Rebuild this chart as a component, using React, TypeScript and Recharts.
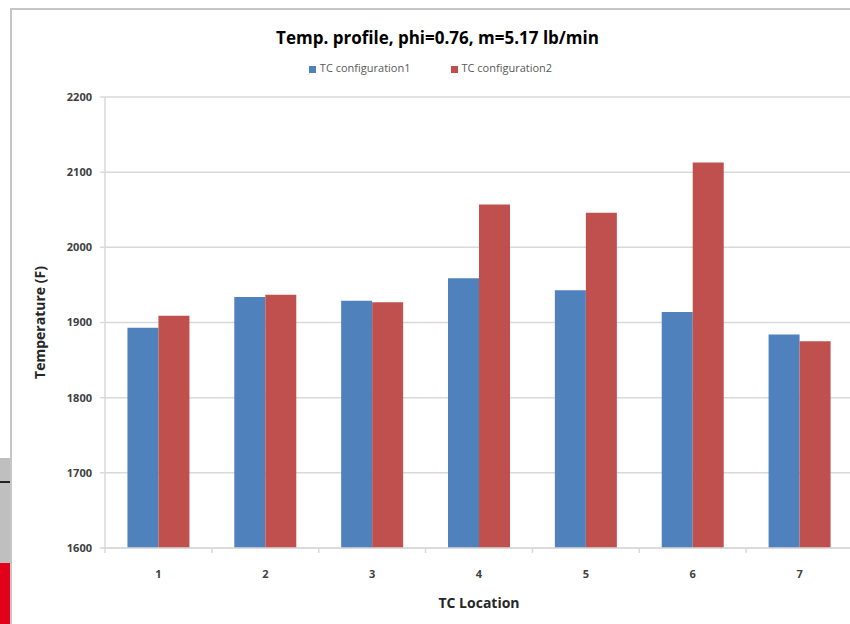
import React from 'react';
import { BarChart, Bar, XAxis, YAxis, CartesianGrid, Legend } from 'recharts';

const categories = ['1', '2', '3', '4', '5', '6', '7'];
const config1 = [1893, 1934, 1929, 1959, 1943, 1914, 1884];
const config2 = [1909, 1937, 1927, 2057, 2046, 2113, 1875];
const yTicks = [1600, 1700, 1800, 1900, 2000, 2100, 2200];

const data = categories.map((c, i) => ({
  name: c,
  c1: config1[i],
  c2: config2[i],
}));

const FONT = 'Open Sans, "Noto Sans", sans-serif';
const X_TICK_SIZE = 6;
const X_TICK_MARGIN = 16;

function CategoryTick(props: any) {
  const { x, y, payload, index, visibleTicksCount } = props;
  const half = payload && payload.offset ? payload.offset : 0;
  const axisY = y - X_TICK_SIZE - X_TICK_MARGIN;
  const isLast = index === (visibleTicksCount ?? categories.length) - 1;
  return (
    <g>
      <line x1={x - half} x2={x - half} y1={axisY} y2={axisY + 5} stroke="#d9d9d9" strokeWidth={1.5} />
      {isLast ? <line x1={x + half} x2={x + half} y1={axisY} y2={axisY + 5} stroke="#d9d9d9" strokeWidth={1.5} /> : null}
      <text x={x} y={y} dy="0.71em" textAnchor="middle" fontSize={11} fontWeight={700} fill="#404040" fontFamily={FONT}>
        {payload.value}
      </text>
    </g>
  );
}

export default function App() {
  return (
    <div style={{ position: 'absolute', left: 0, top: 0, width: 850, height: 624, overflow: 'hidden', background: '#fff', fontFamily: FONT }}>
      {/* slide background fragments */}
      <div style={{ position: 'absolute', left: 0, top: 458, width: 11, height: 105, background: '#bfbfbf' }} />
      <div style={{ position: 'absolute', left: 0, top: 481, width: 11, height: 2, background: '#222' }} />
      <div style={{ position: 'absolute', left: 0, top: 563, width: 11, height: 61, background: '#e2001a' }} />
      {/* chart frame */}
      <div style={{ position: 'absolute', left: 10, top: 8, width: 860, height: 640, borderLeft: '2px solid #c6c6c6', borderTop: '2px solid #c6c6c6', background: '#fff' }} />
      <div style={{ position: 'absolute', left: 0, top: 26, width: 875, textAlign: 'center', fontSize: 17, fontWeight: 700, color: '#000', fontFamily: FONT }}>
        Temp. profile, phi=0.76, m=5.17 lb/min
      </div>
      <div style={{ position: 'absolute', left: 0, top: 0 }}>
        <BarChart
          width={872}
          height={624}
          data={data}
          margin={{ top: 82, right: 19, bottom: 6, left: 0 }}
          barCategoryGap="21%"
          barGap={0}
        >
          <CartesianGrid vertical={false} stroke="#d9d9d9" strokeWidth={1.5} />
          <XAxis
            dataKey="name"
            height={70}
            interval={0}
            axisLine={{ stroke: '#d9d9d9', strokeWidth: 1.5 }}
            tickLine={false}
            tickSize={X_TICK_SIZE}
            tickMargin={X_TICK_MARGIN}
            tick={<CategoryTick />}
            label={{ value: 'TC Location', position: 'insideBottom', offset: 10, style: { fontSize: 14, fontWeight: 700, fill: '#262626', fontFamily: FONT } }}
          />
          <YAxis
            domain={[1600, 2200]}
            ticks={yTicks}
            width={105}
            interval={0}
            axisLine={{ stroke: '#d9d9d9', strokeWidth: 1.5 }}
            tickLine={{ stroke: '#d9d9d9', strokeWidth: 1.5 }}
            tickSize={5}
            tickMargin={8}
            tick={{ fontSize: 11, fontWeight: 700, fill: '#404040', fontFamily: FONT }}
            label={{ value: 'Temperature (F)', angle: -90, position: 'insideLeft', offset: 40, style: { textAnchor: 'middle', fontSize: 14, fontWeight: 700, fill: '#262626', fontFamily: FONT } }}
          />
          <Legend
            verticalAlign="top"
            iconType="square"
            iconSize={7}
            wrapperStyle={{ top: 60, left: 24, fontSize: 11, fontFamily: FONT }}
            formatter={(v) => <span style={{ color: '#595959', marginRight: 30 }}>{v}</span>}
          />
          <Bar dataKey="c1" name="TC configuration1" fill="#4f81bd" isAnimationActive={false} />
          <Bar dataKey="c2" name="TC configuration2" fill="#c0504d" isAnimationActive={false} />
        </BarChart>
      </div>
    </div>
  );
}
